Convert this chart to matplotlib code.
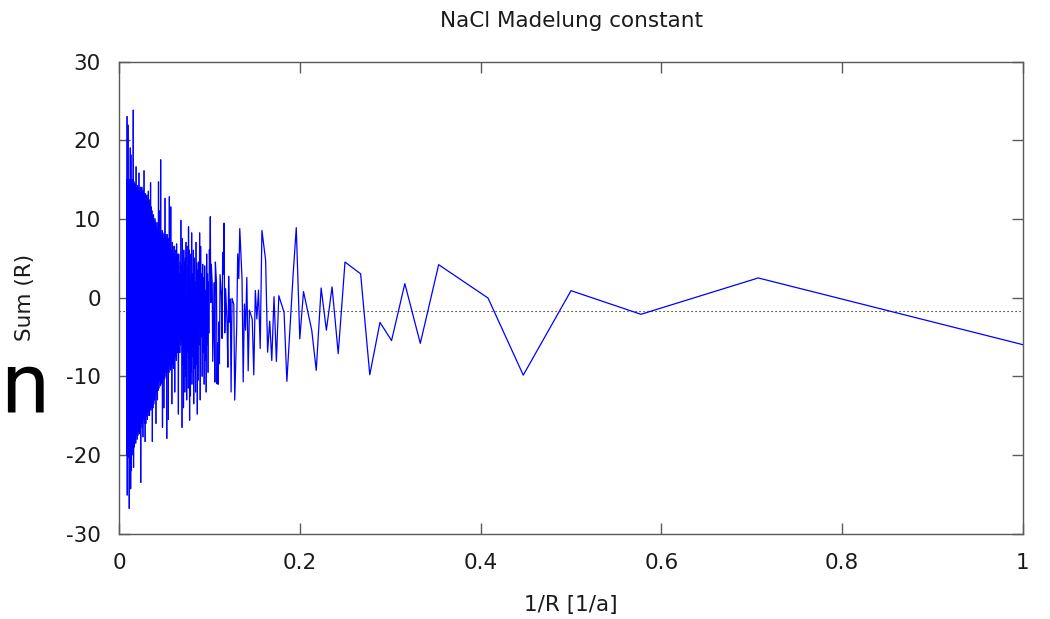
import matplotlib
matplotlib.use("Agg")
import matplotlib.pyplot as plt
from matplotlib.collections import LineCollection

plt.rcParams["axes.unicode_minus"] = False
plt.rcParams["path.simplify"] = False

# ---- data: partial Madelung sums per shell, x = 1/R ----
shell_x = [1.0, 0.7071, 0.5774, 0.5, 0.4472, 0.4082, 0.3536, 0.3333, 0.3162,
           0.3015, 0.2887, 0.2774, 0.2673, 0.25, 0.2425, 0.2357, 0.2294, 0.2236,
           0.2182, 0.2132, 0.2041, 0.2, 0.1961, 0.1925, 0.1857, 0.1826, 0.1768,
           0.1741, 0.1715, 0.1690, 0.1667, 0.1644, 0.1622, 0.1581, 0.1562,
           0.1543, 0.1525, 0.1508, 0.1491, 0.1474, 0.1443, 0.1429, 0.1414,
           0.1400, 0.1387, 0.1374, 0.1361, 0.1336, 0.1325, 0.1313, 0.1302,
           0.1280, 0.1270, 0.125, 0.1240, 0.1231, 0.1222, 0.1213, 0.1204,
           0.1195, 0.1179, 0.1170, 0.1162, 0.1155, 0.1147, 0.1140, 0.1132,
           0.1118, 0.1111, 0.1104, 0.1098, 0.1091, 0.1085, 0.1078, 0.1066,
           0.1060, 0.1054, 0.1048, 0.1037, 0.1031, 0.1021, 0.1015, 0.1010,
           0.1005, 0.1]
shell_sum = [-6.000, 2.485, -2.134, 0.867, -9.867, -0.069, 4.174, -5.826, 1.764,
             -5.473, -3.163, -9.820, 3.009, 4.509, -7.133, 1.352, -4.154, 1.213,
             -9.262, -4.145, 0.754, -5.246, 8.875, 2.716, -10.654, -1.890, 0.231,
             -8.125, 0.107, -8.006, -3.006, -6.952, 4.728, 8.523, -6.470,
             0.937, -2.723, 0.895, -9.838, -2.761, -1.606, -9.321, 2.559,
             -4.162, -0.834, -10.724, 2.340, 8.754, 2.396, 5.548, -3.826,
             -13.045, -0.853, -0.103, -12.010, -0.193, -3.125, 2.696, -8.861,
             -3.124, 1.118, -4.500, 9.450, 2.984, 5.737, -5.203, 0.232,
             2.915, -8.419, -3.118, -11.021, -5.784, -10.990, 1.950, 4.508,
             -10.756, 1.894, -3.138, -8.116, 1.786, 4.235, -0.638, 10.271,
             3.035, 6.035]

tail_x = [0.0995, 0.0990, 0.0985, 0.0980, 0.0975, 0.0970, 0.0964, 0.0959, 0.0953,
          0.0948, 0.0942, 0.0937, 0.0931, 0.0926, 0.0920, 0.0915, 0.0909, 0.0903,
          0.0898, 0.0892, 0.0887, 0.0881, 0.0875, 0.0870, 0.0866, 0.0861, 0.0856,
          0.0852, 0.0847, 0.0842, 0.0837, 0.0832, 0.0827, 0.0822, 0.0817, 0.0812,
          0.0807, 0.0804, 0.0799, 0.0795, 0.0790, 0.0785, 0.0781, 0.0777, 0.0773,
          0.0769, 0.0765, 0.0761, 0.0757, 0.0753, 0.0749, 0.0745, 0.0741, 0.0737,
          0.0733, 0.0729, 0.0725, 0.0721, 0.0717, 0.0713, 0.0709, 0.0705, 0.0701,
          0.0697, 0.0693, 0.0689, 0.0685, 0.0681, 0.0677, 0.0673, 0.0669, 0.0665,
          0.0661, 0.0657, 0.0653, 0.0649, 0.0645, 0.0641, 0.0637, 0.0633, 0.0629,
          0.0625, 0.0621, 0.0617, 0.0613, 0.0609, 0.0605, 0.0601, 0.0597, 0.0593,
          0.0589, 0.0585, 0.0581, 0.0577, 0.0573, 0.0569, 0.0565, 0.0561, 0.0557,
          0.0553, 0.0549, 0.0545, 0.0541, 0.0537, 0.0533, 0.0529, 0.0525, 0.0521,
          0.0517, 0.0513, 0.0509, 0.0505, 0.0501, 0.0497, 0.0493, 0.0489, 0.0485,
          0.0481, 0.0477, 0.0473, 0.0469, 0.0465, 0.0461, 0.0457, 0.0453, 0.0449,
          0.0445, 0.0441, 0.0437, 0.0433, 0.0429, 0.0425, 0.0421, 0.0417, 0.0413,
          0.0409, 0.0405, 0.0401, 0.0397, 0.0393, 0.0389, 0.0385, 0.0381, 0.0377,
          0.0373, 0.0369, 0.0365, 0.0361, 0.0357, 0.0353, 0.0349, 0.0345, 0.0341,
          0.0337, 0.0333, 0.0329, 0.0325, 0.0321, 0.0317, 0.0313, 0.0309, 0.0305,
          0.0301, 0.0297, 0.0293, 0.0289, 0.0285, 0.0281, 0.0277, 0.0273, 0.0269,
          0.0265, 0.0261, 0.0257, 0.0253, 0.0249, 0.0245, 0.0241, 0.0237, 0.0233,
          0.0229, 0.0225, 0.0221, 0.0217, 0.0213, 0.0209, 0.0205, 0.0201, 0.0197,
          0.0193, 0.0189, 0.0185, 0.0181, 0.0177, 0.0173, 0.0169, 0.0165, 0.0161,
          0.0157, 0.0153, 0.0149, 0.0145, 0.0141, 0.0137, 0.0133, 0.0129, 0.0125,
          0.0121, 0.0117, 0.0113, 0.0109, 0.0105, 0.0101, 0.0097, 0.0093, 0.0091,
          0.0089, 0.0087, 0.0085]
tail_sum = [-4.5, 2.0, -9.5, 3.0, -6.0, 5.5, -12.0, 0.9, -8.0,
            4.0, -11.0, 2.5, -7.0, 4.2, -10.0, 3.0, -5.0, 6.5,
            -13.0, 8.2, -6.0, 4.5, -10.5, 3.5, -14.8, 4.4, -8.5,
            7.0, -12.0, 2.0, -9.0, 5.0, -13.5, 6.0, -7.5, 3.0,
            -11.0, 8.2, -9.5, 5.5, -12.5, 2.5, -15.6, 6.0, -8.0,
            9.0, -11.5, 4.0, -7.0, 6.5, -13.0, -6.0, 7.0, -10.0,
            5.0, -12.0, 4.5, -9.0, 6.0, -14.0, 3.5, -8.5, 7.5,
            -16.5, 4.0, -5.5, 9.8, -6.0, 4.5, -7.0, 3.0, -5.0,
            5.5, -14.8, 4.0, -7.0, 5.5, -6.5, 6.8, -8.0, 5.0,
            -7.5, 6.0, -12.0, 6.5, -8.0, 5.5, -9.0, 6.5, -8.5,
            7.0, -13.5, 6.0, -9.0, 11.5, -9.2, 7.0, -8.5, 12.8,
            -9.5, 7.5, -15.5, 7.0, -9.5, 8.0, -17.9, 7.5, -10.0,
            8.0, -9.5, 12.6, -10.3, 8.0, -14.0, 7.5, -10.5, 8.2,
            -16.5, 8.5, -10.8, 8.0, -11.0, 17.5, -11.2, 8.4, -10.5,
            11.0, -11.5, 14.7, -11.8, 8.6, -13.0, 9.5, -12.0, 9.0,
            -16.0, 9.6, -12.5, 10.0, -13.0, 9.5, -13.5, 10.5, -14.0,
            10.4, -18.3, 11.0, -14.0, 11.5, -14.3, 14.6, -14.0, 12.0,
            -15.0, 12.4, -14.5, 13.5, -15.0, 12.5, -15.5, 13.0, -15.0,
            12.8, -16.0, 13.2, -18.3, 13.0, -16.0, 16.1, -15.5, 13.6,
            -17.7, 13.5, -16.5, 14.0, -16.0, 13.8, -23.5, 14.0, -17.0,
            13.5, -17.3, 15.8, -17.0, 14.0, -17.5, 14.2, -18.0, 14.0,
            -17.5, 16.6, -18.5, 14.3, -18.0, 14.5, -19.0, 14.7, -21.6,
            23.8, -19.5, 15.0, -20.0, 15.0, -22.0, 18.1, -24.3, 19.0,
            -20.0, 15.0, -26.8, 15.0, -20.3, 21.9, -20.0, 15.0, -25.1,
            23.0, -20.0, 15.0]

madelung = -1.7476
x_ticks = [0, 0.2, 0.4, 0.6, 0.8, 1]
x_ticklabels = ["0", "0.2", "0.4", "0.6", "0.8", "1"]
y_ticks = [-30, -20, -10, 0, 10, 20, 30]

W, H = 1050, 619
fig = plt.figure(figsize=(W / 100, H / 100), dpi=100)
L, R, T, B = 119, 1023, 61.5, 533.5
ax = fig.add_axes([L / W, 1 - B / H, (R - L) / W, (B - T) / H])

fs = 15.5
txt = "#1a1a1a"
spine_c = "#5a5a5a"
blue = "#0000ff"

ax.axhline(madelung, color="black", lw=0.8, linestyle=(0, (1, 2.6)), zorder=1)

# sparse part as one polyline
ax.plot(shell_x, shell_sum, color=blue, lw=0.9, zorder=2)

# dense tail: each segment drawn on its own so overlapping strokes stay solid
tx = [shell_x[-1]] + tail_x
ty = [shell_sum[-1]] + tail_sum
segs = [[(tx[i], ty[i]), (tx[i + 1], ty[i + 1])] for i in range(len(tx) - 1)]
ax.add_collection(LineCollection(segs, colors=blue, linewidths=0.9,
                                 capstyle="round", zorder=2))

ax.set_xlim(0, 1)
ax.set_ylim(-30, 30)
ax.set_xticks(x_ticks)
ax.set_xticklabels(x_ticklabels)
ax.set_yticks(y_ticks)
ax.tick_params(axis="both", direction="in", length=8, width=1.0, color=spine_c,
               labelsize=fs, labelcolor=txt, top=True, right=True)
ax.tick_params(axis="x", pad=14)
ax.tick_params(axis="y", pad=13)
for s in ax.spines.values():
    s.set_color(spine_c)
    s.set_linewidth(1.0)

fig.text((L + R) / 2 / W, 1 - 27 / H, "NaCl Madelung constant", ha="center",
         va="baseline", fontsize=fs, color=txt)
fig.text((L + R) / 2 / W, 1 - 605 / H, "1/R [1/a]", ha="center", va="center",
         fontsize=fs, color=txt)
fig.text(25 / W, 1 - 297 / H, "Sum (R)", ha="center", va="center",
         rotation=90, fontsize=fs, color=txt)

fig.text(1 / W, 1 - 412 / H, "n", ha="left", va="baseline", fontsize=62,
         family="Roboto", color="black")

fig.savefig("out.png", dpi=100)
